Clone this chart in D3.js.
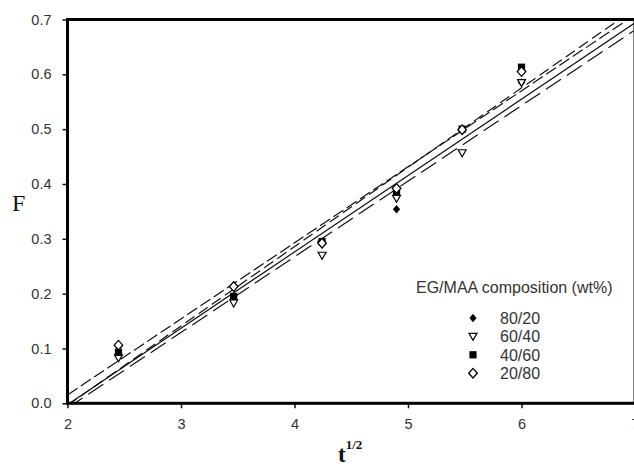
<!DOCTYPE html>
<html>
<head>
<meta charset="utf-8">
<script src="https://cdn.jsdelivr.net/npm/d3@7"></script>
<style>
  html, body { margin: 0; padding: 0; background: #fff; }
  svg { display: block; }
</style>
</head>
<body>
<svg id="chart" width="634" height="468"></svg>
<script>
// Square root of sampling time (t^1/2) for each measurement
const sqrtTime = [2.449, 3.464, 4.243, 4.899, 5.477, 6.0];

// Fractional release F for each EG/MAA composition
const seriesNames = ["80/20", "60/40", "40/60", "20/80"];
const f8020 = [0.090, 0.190, 0.290, 0.354, 0.500, 0.585];
const f6040 = [0.083, 0.183, 0.270, 0.374, 0.457, 0.585];
const f4060 = [0.093, 0.195, 0.295, 0.385, 0.500, 0.613];
const f2080 = [0.106, 0.213, 0.292, 0.392, 0.499, 0.605];

const xTicks = [2, 3, 4, 5, 6, 7];
const yTicks = [0.0, 0.1, 0.2, 0.3, 0.4, 0.5, 0.6, 0.7];

const seriesValues = [f8020, f6040, f4060, f2080];
const symbolTypes = ["diamondFilled", "triangleOpen", "squareFilled", "diamondOpen"];
const lineDashes = [null, "18,7", "11,5", "12,4"];

const svg = d3.select("#chart");
const plotLeft = 67.5, plotRight = 635, plotTop = 19.5, plotBottom = 403.3;

const x = d3.scaleLinear().domain([2, 7]).range([plotLeft, plotRight]);
const y = d3.scaleLinear().domain([0, 0.7]).range([plotBottom, plotTop]);

// Clip region for fitted lines
svg.append("defs").append("clipPath").attr("id", "plotClip")
  .append("rect")
  .attr("x", plotLeft).attr("y", plotTop)
  .attr("width", plotRight - plotLeft).attr("height", plotBottom - plotTop);

// Least-squares fit of each series
function fit(xs, ys) {
  const mx = d3.mean(xs), my = d3.mean(ys);
  let sxy = 0, sxx = 0;
  xs.forEach((v, i) => { sxy += (v - mx) * (ys[i] - my); sxx += (v - mx) * (v - mx); });
  const b = sxy / sxx;
  return { slope: b, intercept: my - b * mx };
}

const lines = svg.append("g").attr("clip-path", "url(#plotClip)");
seriesValues.forEach((vals, i) => {
  const f = fit(sqrtTime, vals);
  const ends = [2, 7].map(t => [t, f.intercept + f.slope * t]);
  lines.append("path")
    .attr("d", d3.line().x(d => x(d[0])).y(d => y(d[1]))(ends))
    .attr("fill", "none")
    .attr("stroke", "#111")
    .attr("stroke-width", 1.2)
    .attr("stroke-dasharray", lineDashes[i]);
});

// Marker shapes
const diamondPath = (rx, ry) => `M0,${-ry}L${rx},0L0,${ry}L${-rx},0Z`;
function drawSymbol(g, type, cx, cy) {
  const t = `translate(${cx},${cy})`;
  if (type === "diamondFilled") {
    g.append("path").attr("d", diamondPath(3.6, 4.2)).attr("transform", t).attr("fill", "#000");
  } else if (type === "diamondOpen") {
    g.append("path").attr("d", diamondPath(4.3, 4.8)).attr("transform", t)
      .attr("fill", "#fff").attr("stroke", "#000").attr("stroke-width", 1.3);
  } else if (type === "squareFilled") {
    g.append("rect").attr("x", -3.6).attr("y", -3.6).attr("width", 7.2).attr("height", 7.2)
      .attr("transform", t).attr("fill", "#000");
  } else if (type === "triangleOpen") {
    g.append("path").attr("d", "M-4,-3L4,-3L0,4Z").attr("transform", t)
      .attr("fill", "#fff").attr("stroke", "#000").attr("stroke-width", 1.2);
  }
}

const pts = svg.append("g");
seriesValues.forEach((vals, i) => {
  vals.forEach((v, j) => drawSymbol(pts, symbolTypes[i], x(sqrtTime[j]), y(v)));
});

// Axes
const xAxis = svg.append("g").attr("transform", `translate(0,${plotBottom})`)
  .call(d3.axisBottom(x).tickValues(xTicks).tickFormat(d3.format("d")).tickSize(5).tickPadding(10));
const yAxis = svg.append("g").attr("transform", `translate(${plotLeft},0)`)
  .call(d3.axisLeft(y).tickValues(yTicks).tickFormat(d3.format(".1f")).tickSize(5).tickPadding(11));
[xAxis, yAxis].forEach(a => {
  a.select(".domain").remove();
  a.selectAll(".tick line").attr("stroke", "#111").attr("stroke-width", 1.5);
  a.selectAll(".tick text").attr("fill", "#333")
    .style("font-family", "Liberation Sans, Arial, sans-serif").style("font-size", "14.5px");
});

// Frame
svg.append("rect")
  .attr("x", plotLeft).attr("y", plotTop)
  .attr("width", plotRight - plotLeft).attr("height", plotBottom - plotTop)
  .attr("fill", "none").attr("stroke", "#000").attr("stroke-width", 3);

// Axis titles
svg.append("text").attr("x", 12).attr("y", 211)
  .style("font-family", "Liberation Serif, Times New Roman, serif")
  .style("font-size", "24px").attr("fill", "#111").text("F");

const xt = svg.append("text").attr("x", 338).attr("y", 462)
  .style("font-family", "Liberation Serif, Times New Roman, serif")
  .style("font-weight", "bold").attr("fill", "#111");
xt.append("tspan").style("font-size", "23px").text("t");
xt.append("tspan").attr("dy", -13).style("font-size", "13px").text("1/2");

// Legend
const lg = svg.append("g").style("font-family", "Liberation Sans, Arial, sans-serif")
  .style("font-size", "16px").attr("fill", "#333");
lg.append("text").attr("x", 416).attr("y", 293).text("EG/MAA composition (wt%)");
seriesNames.forEach((name, i) => {
  const cy = 318 + i * 18.4;
  drawSymbol(lg, symbolTypes[i], 473, cy);
  lg.append("text").attr("x", 500).attr("y", cy + 6).attr("fill", "#333").text(name);
});
</script>
</body>
</html>
